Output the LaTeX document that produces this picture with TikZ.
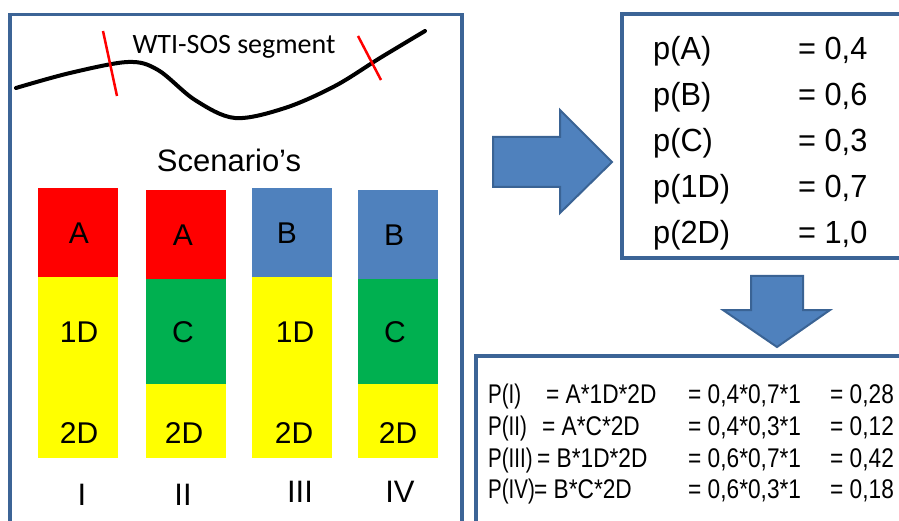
\documentclass[tikz,border=0pt]{standalone}
\usepackage{fontspec}
\setmainfont{Liberation Sans}
\newfontfamily\calibri{Carlito}
\newfontfamily\probfont[FakeStretch=0.96]{Liberation Sans}
\newfontfamily\calcfont[FakeStretch=0.84]{Liberation Sans}
\newfontfamily\calcnamefont[FakeStretch=0.76]{Liberation Sans}
\definecolor{frameblue}{HTML}{3C6496}
\definecolor{arrowfill}{HTML}{4F81BD}
\definecolor{arrowline}{HTML}{3A6394}
\definecolor{segred}{HTML}{FF0000}
\definecolor{segyellow}{HTML}{FFFF00}
\definecolor{seggreen}{HTML}{00B050}
\definecolor{segblue}{HTML}{4F81BD}
\begin{document}
\begin{tikzpicture}[x=1pt,y=-1pt,
  panel/.style={draw=frameblue,line width=3.5pt},
  seg/.style={rectangle,draw=none,inner sep=0pt,minimum width=80pt},
  barlabel/.style={inner sep=0pt,font=\fontsize{30}{34}\selectfont},
  numlabel/.style={inner sep=0pt,font=\fontsize{31}{35}\selectfont},
  probtxt/.style={anchor=base west,inner sep=0pt,font=\probfont\fontsize{32}{36}\selectfont},
  calctxt/.style={anchor=base west,inner sep=0pt,font=\calcfont\fontsize{27}{31}\selectfont},
  calcname/.style={anchor=base west,inner sep=0pt,font=\calcnamefont\fontsize{27}{31}\selectfont},
  blockarrow/.style={fill=arrowfill,draw=arrowline,line width=2pt,line join=miter},
  tick/.style={draw=red,line width=2.5pt}]
\useasboundingbox (0,0) rectangle (899,521);
\clip (0,0) rectangle (899,521);

% panels
\draw[panel] (10,14.5) rectangle (462,540);
\draw[panel] (622,14) rectangle (920,258);
\draw[panel] (476,356) rectangle (920,540);

% road segment with its two cut marks
\draw[line width=4pt,line cap=round] plot[smooth,tension=0.55] coordinates
  {(16,88) (70,73) (128,62) (158,70) (195,100) (235,118) (285,108) (335,86) (380,58) (425,31)};
\draw[tick] (103,31) -- (117,96);
\draw[tick] (358,36) -- (381,80);
\node[inner sep=0pt,font=\calibri\fontsize{28}{31}\selectfont] (segtitle) at (234,47) {WTI-SOS segment};

\node[inner sep=0pt,font=\fontsize{31}{36}\selectfont] (scen) at (229,160) {Scenario’s};

% scenario bars
\node[seg,fill=segred,minimum height=89pt] (i1) at (78,232.5) {};
\node[seg,fill=segyellow,minimum height=181pt] (i2) at (78,367.5) {};
\node[seg,fill=segred,minimum height=89pt] (ii1) at (186,234.5) {};
\node[seg,fill=seggreen,minimum height=105pt] (ii2) at (186,331.5) {};
\node[seg,fill=segyellow,minimum height=74pt] (ii3) at (186,421) {};
\node[seg,fill=segblue,minimum height=89pt] (iii1) at (292,232.5) {};
\node[seg,fill=segyellow,minimum height=181pt] (iii2) at (292,367.5) {};
\node[seg,fill=segblue,minimum height=89pt] (iv1) at (398,234.5) {};
\node[seg,fill=seggreen,minimum height=105pt] (iv2) at (398,331.5) {};
\node[seg,fill=segyellow,minimum height=74pt] (iv3) at (398,421) {};

\node[barlabel] (la1) at (79,233) {A};
\node[barlabel] (la2) at (79,332) {1D};
\node[barlabel] (la3) at (79,433) {2D};
\node[barlabel] (lb1) at (183,235) {A};
\node[barlabel] (lb2) at (183,332) {C};
\node[barlabel] (lb3) at (184,433) {2D};
\node[barlabel] (lc1) at (287,233) {B};
\node[barlabel] (lc2) at (295,332) {1D};
\node[barlabel] (lc3) at (294,433) {2D};
\node[barlabel] (ld1) at (394,235) {B};
\node[barlabel] (ld2) at (395,332) {C};
\node[barlabel] (ld3) at (398,433) {2D};

\node[numlabel] (n1) at (82,495) {I};
\node[numlabel] (n2) at (183,495) {II};
\node[numlabel] (n3) at (300,492) {III};
\node[numlabel] (n4) at (400,492) {IV};

% block arrows
\draw[blockarrow] (493,137) -- (560,137) -- (560,110) -- (612,162) -- (560,213)
  -- (560,187) -- (493,187) -- cycle;
\draw[blockarrow] (751,276) -- (803,276) -- (803,310) -- (830,310) -- (777,347)
  -- (723,310) -- (751,310) -- cycle;

% probabilities
\node[probtxt] (pa) at (653,60) {p(A)};
\node[probtxt] (pb) at (653,106) {p(B)};
\node[probtxt] (pc) at (653,152) {p(C)};
\node[probtxt] (pd1) at (653,198) {p(1D)};
\node[probtxt] (pd2) at (653,244) {p(2D)};
\node[probtxt] (va) at (798,60) {= 0,4};
\node[probtxt] (vb) at (798,106) {= 0,6};
\node[probtxt] (vc) at (798,152) {= 0,3};
\node[probtxt] (vd1) at (798,198) {= 0,7};
\node[probtxt] (vd2) at (798,244) {= 1,0};

% scenario probabilities
\node[calcname] (c1a) at (488,403) {P(I)};
\node[calctxt] (c1b) at (546,403) {= A*1D*2D};
\node[calctxt] (c1c) at (688,403) {= 0,4*0,7*1};
\node[calctxt] (c1d) at (830,403) {= 0,28};
\node[calcname] (c2a) at (488,435) {P(II)};
\node[calctxt] (c2b) at (542,435) {= A*C*2D};
\node[calctxt] (c2c) at (688,435) {= 0,4*0,3*1};
\node[calctxt] (c2d) at (830,435) {= 0,12};
\node[calcname] (c3a) at (488,467) {P(III)};
\node[calctxt] (c3b) at (537,467) {= B*1D*2D};
\node[calctxt] (c3c) at (688,467) {= 0,6*0,7*1};
\node[calctxt] (c3d) at (830,467) {= 0,42};
\node[calcname] (c4a) at (488,498) {P(IV)};
\node[calctxt] (c4b) at (534,498) {= B*C*2D};
\node[calctxt] (c4c) at (688,498) {= 0,6*0,3*1};
\node[calctxt] (c4d) at (830,498) {= 0,18};
\end{tikzpicture}
\end{document}
